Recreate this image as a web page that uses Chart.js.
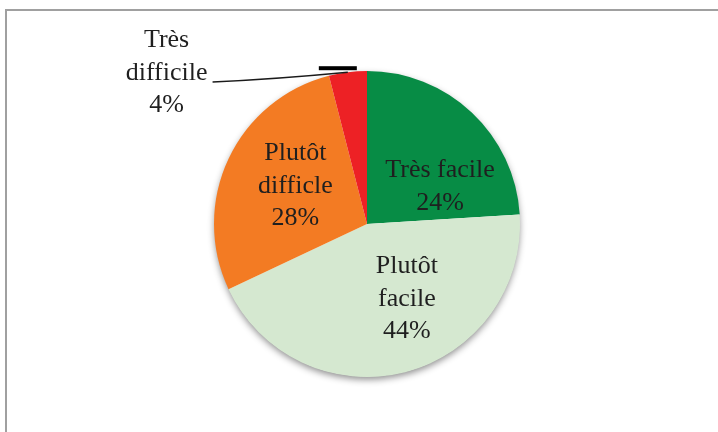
<!DOCTYPE html>
<html>
<head>
<meta charset="utf-8">
<script src="https://cdn.jsdelivr.net/npm/chart.js@4"></script>
<style>
  html, body { margin: 0; padding: 0; background: #fff; }
  #wrap { width: 718px; height: 432px; position: relative; }
</style>
</head>
<body>
<div id="wrap"><canvas id="pie" width="718" height="432"></canvas></div>
<script>
// data
const categories = ['Très facile', 'Plutôt facile', 'Plutôt difficile', 'Très difficile'];
const values = [24, 44, 28, 4];
// label text as printed (line by line, keeps the original typo)
const labelLines = [
  ['Très facile', '24%'],
  ['Plutôt', 'facile', '44%'],
  ['Plutôt', 'difficle', '28%'],
  ['Très', 'difficile', '4%']
];
const colors = ['#078c45', '#d5e8d0', '#f37b23', '#ed2125'];

// label placement: angle from top (deg, clockwise) and distance in radii
const labelPos = [
  { ang: 63, r: 0.536 },
  { ang: 152, r: 0.556 },
  { ang: 298, r: 0.53 },
  null  // outside label, drawn with a leader line
];

const FONT = '26px "Liberation Serif", "DejaVu Serif", serif';
const LINE_H = 32.5;

function drawLines(c, lines, cx, cy) {
  c.font = FONT;
  c.fillStyle = '#1f1f1f';
  c.textAlign = 'center';
  c.textBaseline = 'middle';
  const top = cy - (lines.length - 1) * LINE_H / 2;
  lines.forEach((t, i) => c.fillText(t, cx, top + i * LINE_H));
}

const framePlugin = {
  id: 'frame',
  beforeDraw(chart) {
    const c = chart.ctx;
    c.save();
    c.strokeStyle = '#a0a0a0';
    c.lineWidth = 2;
    c.beginPath();
    c.moveTo(6, 432);
    c.lineTo(6, 10);
    c.lineTo(718, 10);
    c.stroke();
    c.restore();
  }
};

const shadowPlugin = {
  id: 'pieShadow',
  beforeDatasetsDraw(chart) {
    const a = chart.getDatasetMeta(0).data[0];
    const c = chart.ctx;
    c.save();
    c.shadowColor = 'rgba(0,0,0,0.45)';
    c.shadowBlur = 7;
    c.shadowOffsetY = 3;
    c.fillStyle = '#ffffff';
    c.beginPath();
    c.arc(a.x, a.y, a.outerRadius - 0.5, 0, Math.PI * 2);
    c.fill();
    c.restore();
  }
};

const labelPlugin = {
  id: 'sliceLabels',
  afterDatasetsDraw(chart) {
    const c = chart.ctx;
    const arcs = chart.getDatasetMeta(0).data;
    c.save();
    arcs.forEach((a, i) => {
      const p = labelPos[i];
      if (!p) return;
      const t = p.ang * Math.PI / 180;
      const cx = a.x + Math.sin(t) * a.outerRadius * p.r;
      const cy = a.y - Math.cos(t) * a.outerRadius * p.r;
      drawLines(c, labelLines[i], cx, cy);
    });

    // outside label for the small slice
    const a = arcs[3];
    const mid = (a.startAngle + a.endAngle) / 2;
    const ex = a.x + Math.cos(mid) * a.outerRadius;
    const ey = a.y + Math.sin(mid) * a.outerRadius;
    const lx = a.x - a.outerRadius * 1.31;
    const ly = a.y - a.outerRadius;
    drawLines(c, labelLines[3], lx, ly + 2);
    c.strokeStyle = '#1a1a1a';
    c.lineWidth = 1.6;
    c.beginPath();
    c.moveTo(lx + 46, ly + 11);
    c.quadraticCurveTo(lx + 110, ly + 8, ex, ey);
    c.stroke();
    c.fillStyle = '#000';
    c.fillRect(ex - 29, ey - 6, 38, 4);
    c.restore();
  }
};

new Chart(document.getElementById('pie'), {
  type: 'pie',
  data: {
    labels: categories,
    datasets: [{
      data: values,
      backgroundColor: colors,
      borderWidth: 0
    }]
  },
  options: {
    responsive: false,
    animation: false,
    layout: { padding: { left: 214, right: 198, top: 71, bottom: 55 } },
    plugins: {
      legend: { display: false },
      tooltip: { enabled: false }
    }
  },
  plugins: [framePlugin, shadowPlugin, labelPlugin]
});
</script>
</body>
</html>
